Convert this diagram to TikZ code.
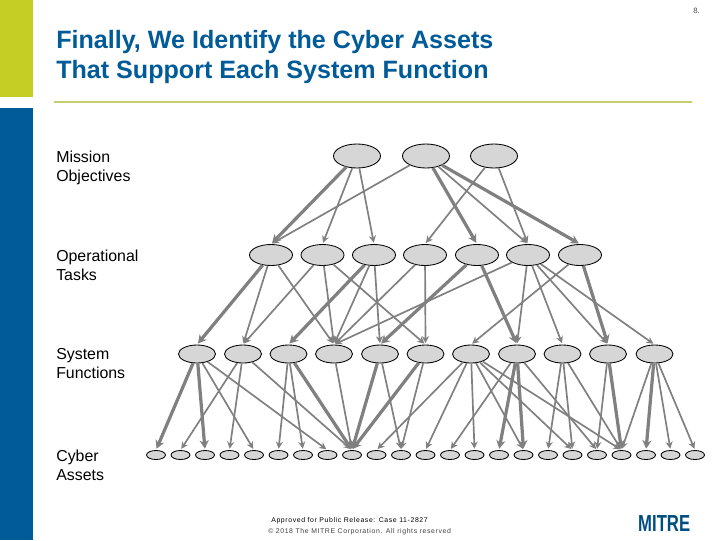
\documentclass[tikz,border=0pt]{standalone}
\usepackage{fontspec}
\setmainfont{Liberation Sans}
\usetikzlibrary{shapes.geometric, arrows.meta}
\definecolor{mitreblue}{HTML}{005B98}
\definecolor{mitrelime}{HTML}{C4CE24}
\definecolor{rulelime}{HTML}{C9CC6E}
\definecolor{nodegray}{HTML}{D6D6D6}
\tikzset{
  goal/.style={shape=ellipse, draw=black, fill=nodegray, line width=0.6pt, inner sep=0pt},
  mission/.style={goal, minimum width=1.175cm, minimum height=0.6cm},
  task/.style={goal, minimum width=1.075cm, minimum height=0.525cm},
  func/.style={goal, minimum width=0.925cm, minimum height=0.45cm},
  asset/.style={goal, minimum width=0.475cm, minimum height=0.225cm},
  link/.style={-{Stealth[length=5pt, width=5pt]}, color=gray, line width=1.2pt, shorten >=1pt},
  biglink/.style={-{Stealth[length=6pt, width=6.5pt]}, color=gray, line width=2.3pt, shorten >=1pt},
  side/.style={anchor=north west, inner sep=0pt, align=left, font=\fontsize{11.3}{13.3}\selectfont},
  foot/.style={anchor=west, inner sep=0pt}
}
\begin{document}
\begin{tikzpicture}[x=0.025cm, y=-0.025cm]
    \useasboundingbox (0,0) rectangle (720,540);
    \fill[mitrelime] (0,0) rectangle (33,97);
    \fill[mitreblue] (0,108) rectangle (33,540);
    \fill[rulelime] (54,101) rectangle (692,103);

    \node[anchor=north west, inner sep=0pt, align=left, text=mitreblue,
      font=\fontsize{17.85}{21.1}\selectfont\bfseries] (Title) at (56,30.5)
      {Finally, We Identify the Cyber Assets\\That Support Each System Function};
    \node[anchor=east, inner sep=0pt, text=black!70, font=\fontsize{5.5}{6}\selectfont] (Page) at (700,11) {8.};

    \node[side] (LabelM) at (56,151) {Mission\\Objectives};
    \node[side] (LabelT) at (56,250) {Operational\\Tasks};
    \node[side] (LabelS) at (56,348) {System\\Functions};
    \node[side] (LabelC) at (56,450) {Cyber\\Assets};

    \foreach \n/\x in {1/357, 2/426, 3/494}
      \node[mission] (M\n) at (\x,156) {};
    \foreach \n/\x in {1/271, 2/322.5, 3/374, 4/425, 5/477, 6/528, 7/580}
      \node[task] (T\n) at (\x,255) {};
    \foreach \n/\x in {1/197, 2/243, 3/288.5, 4/334, 5/380, 6/425.5, 7/471, 8/517, 9/562.5, 10/608, 11/654.5}
      \node[func] (S\n) at (\x,354) {};
    \foreach \n in {1,...,23}
      \node[asset] (C\n) at (156+24.5*\n-24.5,455) {};

    % objectives to tasks
    \foreach \a/\b in {M1/T2, M1/T3, M2/T1, M2/T6, M3/T4, M3/T6}
      \path[link] (\a) edge (\b.north);
    \foreach \a/\b in {M1/T1, M2/T5, M2/T7}
      \path[biglink] (\a) edge (\b.north);

    % tasks to functions
    \foreach \a/\b in {T1/S2, T1/S4, T2/S2, T2/S4, T2/S6, T3/S4, T3/S5, T4/S4, T4/S6,
        T6/S4, T6/S8, T6/S9, T6/S10, T6/S11, T7/S7}
      \path[link] (\a) edge (\b.north);
    \foreach \a/\b in {T1/S1, T3/S3, T5/S5, T5/S8, T7/S10}
      \path[biglink] (\a) edge (\b.north);

    % functions to assets
    \foreach \a/\b in {S1/C5, S1/C8, S2/C2, S2/C4, S2/C9, S3/C6, S3/C7, S4/C9, S5/C11,
        S6/C11, S7/C10, S7/C12, S7/C14, S7/C16, S7/C18, S7/C20, S8/C13, S8/C19,
        S9/C17, S9/C18, S9/C20, S10/C19, S11/C20, S11/C22, S11/C23}
      \path[link] (\a) edge (\b.north);
    \foreach \a/\b in {S1/C1, S1/C3, S3/C9, S5/C9, S6/C9, S8/C15, S8/C16, S10/C20, S11/C21}
      \path[biglink] (\a) edge (\b.north);

    \node[foot, font=\fontsize{4.9}{6}\selectfont\addfontfeatures{LetterSpace=9}] (Release) at (271,521)
      {Approved for Public Release: Case 11-2827};
    \node[foot, text=black!75, font=\fontsize{4.9}{6}\selectfont\addfontfeatures{LetterSpace=9}] (Copy) at (268,531.5)
      {© 2018 The MITRE Corporation. All rights reserved};
    \node[anchor=west, inner sep=0pt, text=mitreblue!85!black, xscale=0.72,
      font=\fontsize{16.5}{18}\selectfont\bfseries] (Logo) at (638,523.5) {MITRE};
  \end{tikzpicture}
\end{document}
